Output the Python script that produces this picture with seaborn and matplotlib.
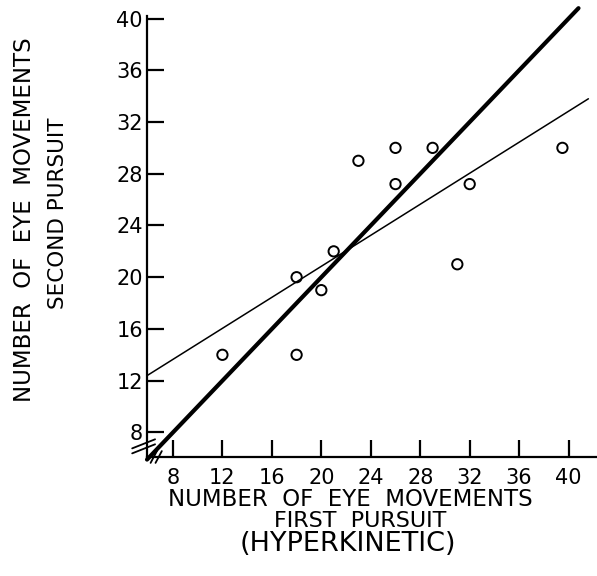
import matplotlib
matplotlib.use("Agg")
import matplotlib.pyplot as plt
import seaborn as sns
import pandas as pd
import numpy as np

# Data
first_pursuit = [12, 18, 18, 20, 21, 23, 26, 26, 29, 32, 31, 39.5]
second_pursuit = [14, 14, 20, 19, 22, 29, 30, 27.2, 30, 27.2, 21, 30]
identity_range = [5.9, 40.8]
x_ticks = [8, 12, 16, 20, 24, 28, 32, 36, 40]
y_ticks = [8, 12, 16, 20, 24, 28, 32, 36, 40]

df = pd.DataFrame({"first": first_pursuit, "second": second_pursuit})

sns.set_theme(style="white")
plt.rcParams['font.family'] = ['DejaVu Sans']

fig = plt.figure(figsize=(5.97, 5.76), dpi=100)
ax = fig.add_axes([147/597, 1 - 457/576, 1 - 147/597 - 0.002, (457 - 3)/576])

ax.set_xlim(5.9, 41.6)
ax.set_ylim(6.1, 41.2)

# identity line (thick)
sns.lineplot(x=identity_range, y=identity_range, ax=ax, color="black",
             linewidth=3.0, clip_on=False)
# regression line (thin), extended to the axis
sns.regplot(data=df, x="first", y="second", ax=ax, ci=None, truncate=False,
            scatter=False, line_kws=dict(color="black", linewidth=1.1))
# points
sns.scatterplot(data=df, x="first", y="second", ax=ax, s=55,
                facecolors="none", edgecolor="black", linewidth=1.4, zorder=5)

ax.set_xlim(5.9, 42.2)
ax.set_ylim(6.1, 41.2)

for s in ["top", "right"]:
    ax.spines[s].set_visible(False)
ax.spines["left"].set_bounds(6.1, 40.2)
ax.spines["left"].set_color("black")
ax.spines["bottom"].set_color("black")
ax.spines["left"].set_linewidth(1.6)
ax.spines["bottom"].set_linewidth(1.6)

ax.set_xticks(x_ticks)
ax.set_yticks(y_ticks)
ax.tick_params(axis="both", direction="in", length=12, width=1.6, color="black",
               labelsize=15, labelcolor="black", bottom=True, left=True)
ax.tick_params(axis="y", pad=3)
ax.tick_params(axis="x", pad=8)
ax.set_xlabel("")
ax.set_ylabel("")
ax.grid(False)

# break marks at the corner
for dy in (0.0, 0.011):
    ax.plot([-0.033, 0.018], [0.008 + dy, 0.028 + dy], transform=ax.transAxes,
            color="black", linewidth=1.3, clip_on=False)
for dx in (0.0, 0.011):
    ax.plot([0.008 + dx, 0.022 + dx], [-0.013, 0.013], transform=ax.transAxes,
            color="black", linewidth=1.3, clip_on=False)

# axis titles
fig.text(350/597, 1 - 499/576, "NUMBER  OF  EYE  MOVEMENTS", ha="center", va="center",
         fontsize=16.5, color="black")
fig.text(360/597, 1 - 521/576, "FIRST  PURSUIT", ha="center", va="center",
         fontsize=16, color="black")
fig.text(348/597, 1 - 544/576, "(HYPERKINETIC)", ha="center", va="center",
         fontsize=19.5, color="black")
fig.text(25/597, 1 - 220/576, "NUMBER  OF  EYE  MOVEMENTS", ha="center", va="center",
         fontsize=16.5, rotation=90, color="black")
fig.text(58/597, 1 - 213/576, "SECOND PURSUIT", ha="center", va="center",
         fontsize=15.5, rotation=90, color="black")

fig.savefig("out.png", dpi=100)
